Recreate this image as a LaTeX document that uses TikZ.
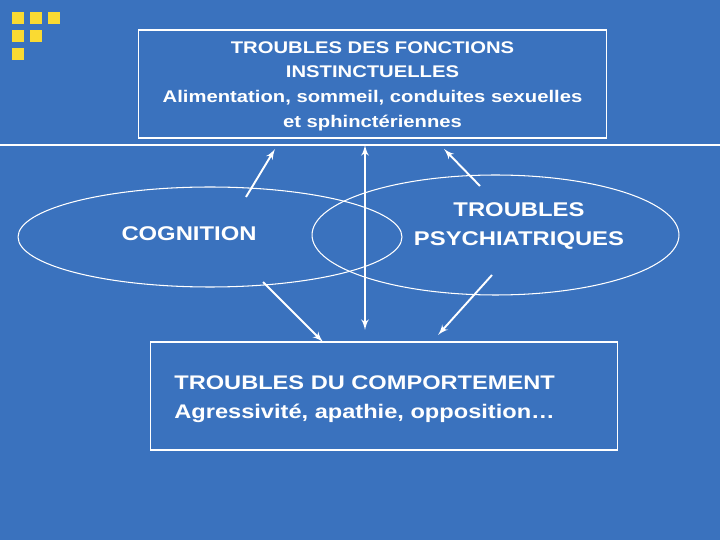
\documentclass[tikz,border=0pt]{standalone}
\usepackage{fontspec}
\setmainfont{Liberation Sans}
\newfontfamily\slidefont[FakeStretch=1.2]{Liberation Sans}
\usetikzlibrary{arrows,shapes.geometric,positioning}
\definecolor{slideblue}{RGB}{58,114,190}
\definecolor{squareyellow}{RGB}{250,218,50}
\tikzset{
    frame/.style = {draw=white, line width=0.6pt, rectangle},
    ring/.style = {draw=white, line width=0.6pt, ellipse, inner sep=0pt},
    label/.style = {text=white, align=center, inner sep=0pt},
    link/.style = {draw=white, line width=1.1pt, ->},
    square/.style = {fill=squareyellow}
}

\begin{document}
\begin{tikzpicture}[x=0.02cm, y=-0.02cm, >=latex']
    % slide background
    \fill [slideblue] (0,0) rectangle (720,540);
    \useasboundingbox (0,0) rectangle (720,540);
    % corner logo
    \foreach \px/\py in {12/12, 30/12, 48/12, 12/30, 30/30, 12/48}
        \fill [square] (\px,\py) rectangle +(12,12);
    \draw [white, line width=0.6pt] (0,145) -- (720,145);
    % boxes
    \node [frame, minimum width=9.38cm, minimum height=2.16cm] (instinct) at (372.5,84) {};
    \node [label, font=\slidefont\bfseries\fontsize{9.6}{14}\selectfont] (instincttxt) at (372.5,86)
        {TROUBLES DES FONCTIONS\\ INSTINCTUELLES\\ Alimentation, sommeil, conduites sexuelles\\ et sphinctériennes};
    \node [frame, minimum width=9.36cm, minimum height=2.16cm] (behav) at (384,396) {};
    \node [label, align=left, anchor=west, font=\slidefont\bfseries\fontsize{11.2}{16.4}\selectfont] (behavtxt) at (174,399)
        {TROUBLES DU COMPORTEMENT\\ Agressivité, apathie, opposition\ldots};
    % ellipses
    \node [ring, minimum width=7.68cm, minimum height=2cm] (cogell) at (210,237) {};
    \node [ring, minimum width=7.34cm, minimum height=2.4cm] (psyell) at (495.5,235) {};
    \node [label, font=\slidefont\bfseries\fontsize{11.3}{16.4}\selectfont] (cog) at (189,234) {COGNITION};
    \node [label, font=\slidefont\bfseries\fontsize{11.3}{16.4}\selectfont] (psy) at (519,226) {TROUBLES\\ PSYCHIATRIQUES};
    % arrow ends
    \coordinate (a1) at (246,197);  \coordinate (b1) at (275,149);
    \coordinate (a2) at (365,330);  \coordinate (b2) at (365,145);
    \coordinate (a3) at (480,186);  \coordinate (b3) at (444,149);
    \coordinate (a4) at (263,282);  \coordinate (b4) at (323,342);
    \coordinate (a5) at (492,275);  \coordinate (b5) at (438,335);
    \draw [link] (a1) -- (b1);
    \draw [link, <->] (a2) -- (b2);
    \draw [link] (a3) -- (b3);
    \draw [link] (a4) -- (b4);
    \draw [link] (a5) -- (b5);
\end{tikzpicture}
\end{document}
